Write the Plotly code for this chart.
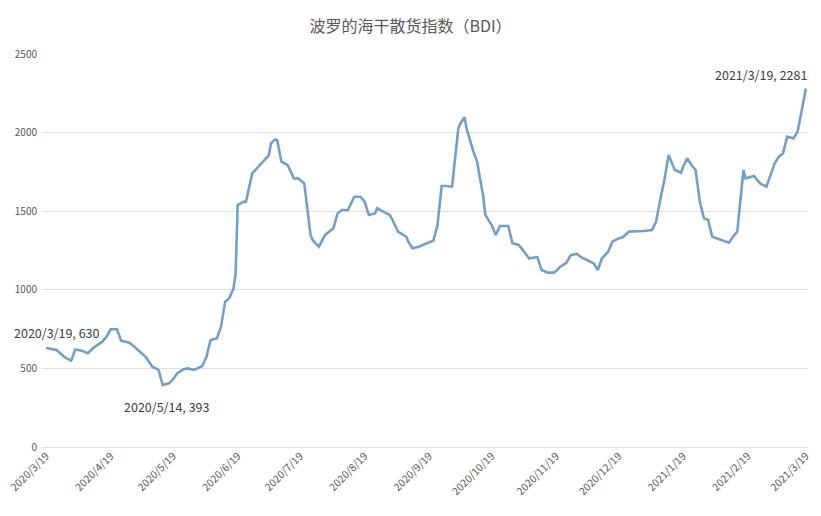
import plotly.graph_objects as go

dates = [
    "2020-03-19", "2020-03-24", "2020-03-28", "2020-03-31", "2020-04-02", "2020-04-05",
    "2020-04-08", "2020-04-11", "2020-04-15", "2020-04-17", "2020-04-19", "2020-04-22",
    "2020-04-24", "2020-04-28", "2020-04-30", "2020-05-03", "2020-05-06", "2020-05-09",
    "2020-05-12", "2020-05-14", "2020-05-17", "2020-05-19", "2020-05-21", "2020-05-24",
    "2020-05-26", "2020-05-29", "2020-05-31", "2020-06-02", "2020-06-04", "2020-06-06",
    "2020-06-09", "2020-06-11", "2020-06-13", "2020-06-15", "2020-06-17", "2020-06-18",
    "2020-06-19", "2020-06-22", "2020-06-23", "2020-06-26", "2020-06-29", "2020-07-01",
    "2020-07-04", "2020-07-05", "2020-07-07", "2020-07-08", "2020-07-10", "2020-07-13",
    "2020-07-16", "2020-07-18", "2020-07-21", "2020-07-24", "2020-07-25", "2020-07-28",
    "2020-07-31", "2020-08-04", "2020-08-06", "2020-08-08", "2020-08-11", "2020-08-14",
    "2020-08-17", "2020-08-19", "2020-08-21", "2020-08-24", "2020-08-25", "2020-08-28",
    "2020-08-31", "2020-09-01", "2020-09-04", "2020-09-08", "2020-09-09", "2020-09-11",
    "2020-09-14", "2020-09-17", "2020-09-21", "2020-09-23", "2020-09-25", "2020-09-27",
    "2020-09-30", "2020-10-03", "2020-10-04", "2020-10-06", "2020-10-07", "2020-10-10",
    "2020-10-12", "2020-10-15", "2020-10-16", "2020-10-19", "2020-10-21", "2020-10-23",
    "2020-10-27", "2020-10-29", "2020-11-01", "2020-11-03", "2020-11-06", "2020-11-10",
    "2020-11-12", "2020-11-15", "2020-11-18", "2020-11-21", "2020-11-24", "2020-11-26",
    "2020-11-29", "2020-12-01", "2020-12-04", "2020-12-07", "2020-12-09", "2020-12-11",
    "2020-12-14", "2020-12-16", "2020-12-19", "2020-12-21", "2020-12-24", "2020-12-27",
    "2020-12-31", "2021-01-04", "2021-01-06", "2021-01-08", "2021-01-10", "2021-01-12",
    "2021-01-15", "2021-01-18", "2021-01-19", "2021-01-21", "2021-01-23", "2021-01-25",
    "2021-01-27", "2021-01-29", "2021-01-31", "2021-02-02", "2021-02-06", "2021-02-10",
    "2021-02-12", "2021-02-14", "2021-02-17", "2021-02-18", "2021-02-22", "2021-02-25",
    "2021-02-28", "2021-03-04", "2021-03-06", "2021-03-08", "2021-03-10", "2021-03-13",
    "2021-03-15", "2021-03-19",
]

bdi = [
    630, 617, 570, 549, 621, 613,
    596, 634, 670, 702, 749, 749,
    676, 663, 642, 606, 570, 511,
    490, 393, 405, 431, 469, 494,
    500, 490, 500, 515, 574, 681,
    691, 765, 924, 946, 1009, 1100,
    1539, 1561, 1561, 1741, 1783, 1815,
    1857, 1932, 1957, 1953, 1815, 1794,
    1709, 1709, 1677, 1349, 1317, 1274,
    1349, 1391, 1486, 1508, 1508, 1592,
    1592, 1561, 1476, 1486, 1518, 1497,
    1476, 1455, 1370, 1338, 1306, 1264,
    1274, 1291, 1312, 1412, 1660, 1660,
    1656, 2026, 2058, 2097, 2025, 1889,
    1815, 1592, 1476, 1412, 1349, 1406,
    1406, 1296, 1285, 1253, 1200, 1207,
    1126, 1109, 1109, 1147, 1173, 1221,
    1228, 1207, 1190, 1169, 1126, 1200,
    1242, 1306, 1327, 1334, 1370, 1370,
    1374, 1380, 1433, 1571, 1698, 1857,
    1762, 1745, 1783, 1836, 1794, 1762,
    1561, 1455, 1444, 1338, 1321, 1300,
    1338, 1370, 1762, 1709, 1724, 1677,
    1656, 1805, 1847, 1868, 1974, 1963,
    2006, 2281,
]

tick_dates = [
    "2020-03-19", "2020-04-19", "2020-05-19", "2020-06-19", "2020-07-19", "2020-08-19",
    "2020-09-19", "2020-10-19", "2020-11-19", "2020-12-19", "2021-01-19", "2021-02-19",
    "2021-03-19",
]
tick_labels = [
    "2020/3/19", "2020/4/19", "2020/5/19", "2020/6/19", "2020/7/19", "2020/8/19",
    "2020/9/19", "2020/10/19", "2020/11/19", "2020/12/19", "2021/1/19", "2021/2/19",
    "2021/3/19",
]
y_ticks = [0, 500, 1000, 1500, 2000, 2500]

callouts = [
    ("2020-03-19", 630, "2020/3/19, 630"),
    ("2020-05-14", 393, "2020/5/14, 393"),
    ("2021-03-19", 2281, "2021/3/19, 2281"),
]

FONT = "Noto Sans CJK SC, Noto Sans, sans-serif"

fig = go.Figure()
fig.add_trace(go.Scatter(
    x=dates, y=bdi, mode="lines",
    line=dict(color="#74a0c8", width=2.6),
    hoverinfo="x+y", showlegend=False,
))

anno_style = [
    dict(xanchor="left", yanchor="middle", xshift=-34, yshift=15),
    dict(xanchor="center", yanchor="middle", xshift=4, yshift=-21),
    dict(xanchor="right", yanchor="bottom", xshift=3, yshift=2),
]
for (d, v, t), st in zip(callouts, anno_style):
    fig.add_annotation(x=d, y=v, text=t, showarrow=False,
                       font=dict(family=FONT, size=12.5, color="#404040"), **st)

fig.update_layout(
    width=821, height=516,
    margin=dict(l=42, r=13, t=54, b=69, autoexpand=False),
    paper_bgcolor="white", plot_bgcolor="white",
    title=dict(text="波罗的海干散货指数（BDI）", x=0.5, xanchor="center",
               xref="container", yref="container", y=0.948, yanchor="middle",
               font=dict(family=FONT, size=16, color="#595959")),
    font=dict(family=FONT, color="#595959"),
)
fig.update_xaxes(
    type="date", range=["2020-03-17", "2021-03-20"], automargin=False,
    tickmode="array", tickvals=tick_dates, ticktext=tick_labels,
    tickangle=-45, tickfont=dict(size=10.5, color="#595959"),
    showgrid=False, showline=False, zeroline=False, ticks="",
)
fig.update_yaxes(
    range=[0, 2500], tickmode="array", tickvals=y_ticks, automargin=False,
    tickfont=dict(size=10, color="#595959"),
    showgrid=True, gridcolor="#e0e0e0", gridwidth=1,
    zeroline=True, zerolinecolor="#e0e0e0", zerolinewidth=1,
    showline=False, ticks="", ticklabelstandoff=4,
)

fig.write_html("out.html", config={"displayModeBar": False},
               post_script="document.body.style.margin='0';document.body.style.overflow='hidden';")
